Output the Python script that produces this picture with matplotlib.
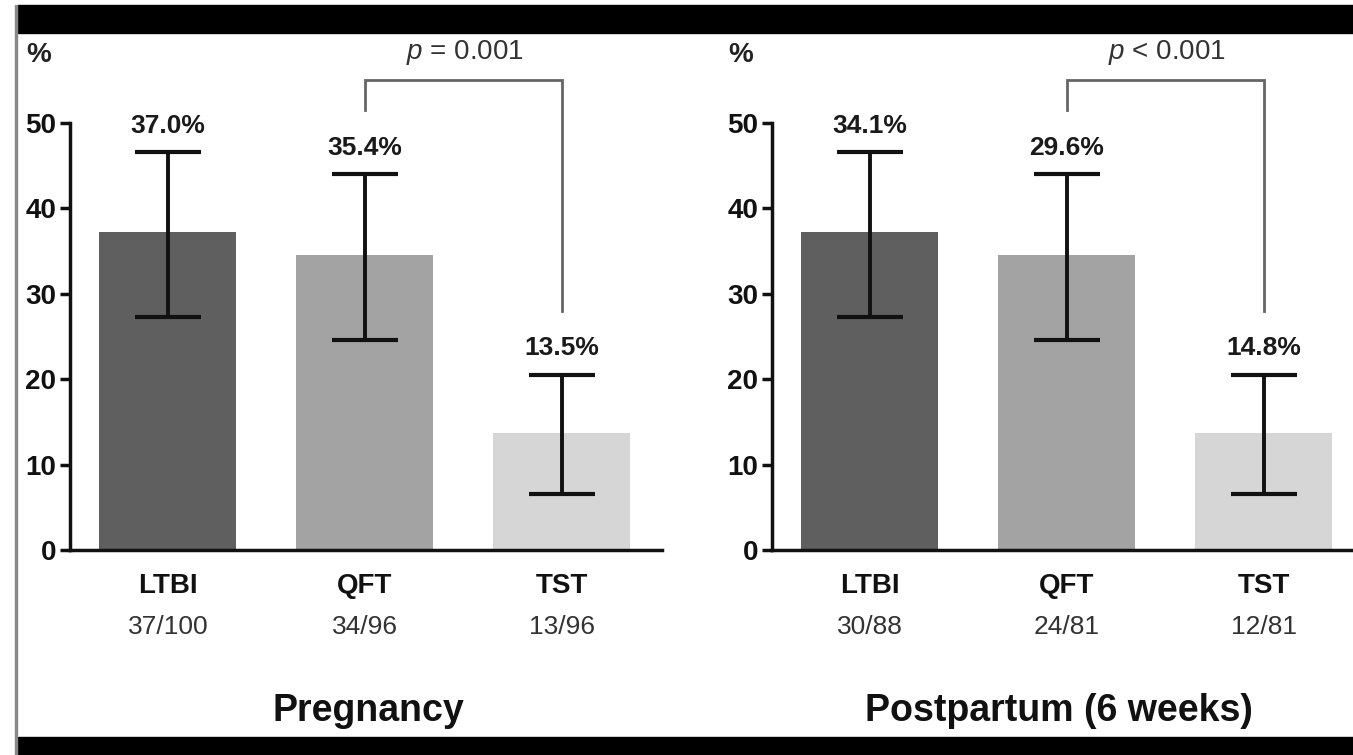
#!/usr/bin/env python3
import matplotlib
matplotlib.use("Agg")
import matplotlib.pyplot as plt
from matplotlib.patches import Rectangle

plt.rcParams['font.family'] = ['Liberation Sans', 'DejaVu Sans']
plt.rcParams['mathtext.fontset'] = 'custom'
plt.rcParams['mathtext.it'] = 'Liberation Sans:italic'
plt.rcParams['mathtext.rm'] = 'Liberation Sans'

categories = ["LTBI", "QFT", "TST"]
bar_colors = ["#5f5f5f", "#a3a3a3", "#d6d6d6"]

# pregnancy panel
preg_heights = [37.2, 34.6, 13.7]
preg_err_low = [27.3, 24.6, 6.6]
preg_err_high = [46.6, 44.0, 20.5]
preg_pct = ["37.0%", "35.4%", "13.5%"]
preg_counts = ["37/100", "34/96", "13/96"]
preg_p = "$p$ = 0.001"

# postpartum panel (bars drawn as in the published figure)
post_heights = [37.2, 34.6, 13.7]
post_err_low = [27.3, 24.6, 6.6]
post_err_high = [46.6, 44.0, 20.5]
post_pct = ["34.1%", "29.6%", "14.8%"]
post_counts = ["30/88", "24/81", "12/81"]
post_p = "$p$ < 0.001"

W, H = 1353, 755
fig = plt.figure(figsize=(W / 100.0, H / 100.0), dpi=100)

# black frame bands
fig.add_artist(Rectangle((18 / W, 1 - 33 / H), 1, 28 / H, transform=fig.transFigure,
                         color="black", zorder=0))
fig.add_artist(Rectangle((18 / W, 0), 1, 18 / H, transform=fig.transFigure,
                         color="black", zorder=0))
fig.add_artist(Rectangle((15 / W, 0), 2 / W, 1 - 5 / H, transform=fig.transFigure,
                         color="#888888", zorder=0))


def draw_panel(left_px, heights, lo, hi, pct, counts, ptext, title, title_x):
    ax = fig.add_axes([left_px / W, 205 / H, 592 / W, 427 / H])
    x = list(range(len(categories)))
    ax.bar(x, heights, width=0.695, color=bar_colors, zorder=1)
    yerr = [[h - l for h, l in zip(heights, lo)], [u - h for h, u in zip(heights, hi)]]
    ax.errorbar(x, heights, yerr=yerr, fmt="none", ecolor="#111111", elinewidth=2.8,
                capsize=23.5, capthick=3, zorder=2)
    for xi, u, t in zip(x, hi, pct):
        ax.text(xi, u + 3.1, t, ha="center", va="center", fontsize=19,
                fontweight="bold", color="#1a1a1a", clip_on=False)
    trans = ax.get_xaxis_transform()
    for xi, c, n in zip(x, categories, counts):
        ax.text(xi, -0.084, c, transform=trans, ha="center", va="center",
                fontsize=20, fontweight="bold", color="#111111")
        ax.text(xi, -0.180, n, transform=trans, ha="center", va="center",
                fontsize=19, color="#333333")
    ax.text(title_x, -0.377, title, transform=trans, ha="center", va="center",
            fontsize=27, fontweight="bold", color="#111111")

    # significance bracket
    ax.plot([1, 1, 2, 2], [51.5, 55.0, 55.0, 28.0], color="#666666", lw=2,
            clip_on=False, solid_joinstyle="miter")
    ax.text(1.51, 58.2, ptext, ha="center", va="center", fontsize=20,
            color="#333333", clip_on=False)
    ax.text(-0.655, 58.0, "%", ha="center", va="center", fontsize=20,
            fontweight="bold", color="#222222", clip_on=False)

    ax.set_xlim(-0.497, 2.508)
    ax.set_ylim(0, 50)
    ax.set_yticks(range(0, 51, 10))
    ax.set_xticks([])
    for s in ["top", "right"]:
        ax.spines[s].set_visible(False)
    for s in ["left", "bottom"]:
        ax.spines[s].set_linewidth(2.5)
        ax.spines[s].set_color("#111111")
    ax.tick_params(axis="y", length=7, width=2.5, pad=3, labelsize=20, colors="#111111")
    for lab in ax.get_yticklabels():
        lab.set_fontweight("bold")
    return ax


draw_panel(70, preg_heights, preg_err_low, preg_err_high, preg_pct, preg_counts,
           preg_p, "Pregnancy", 1.02)
draw_panel(772, post_heights, post_err_low, post_err_high, post_pct, post_counts,
           post_p, "Postpartum (6 weeks)", 0.96)

fig.savefig("out.png", dpi=100)
plt.close("all")
